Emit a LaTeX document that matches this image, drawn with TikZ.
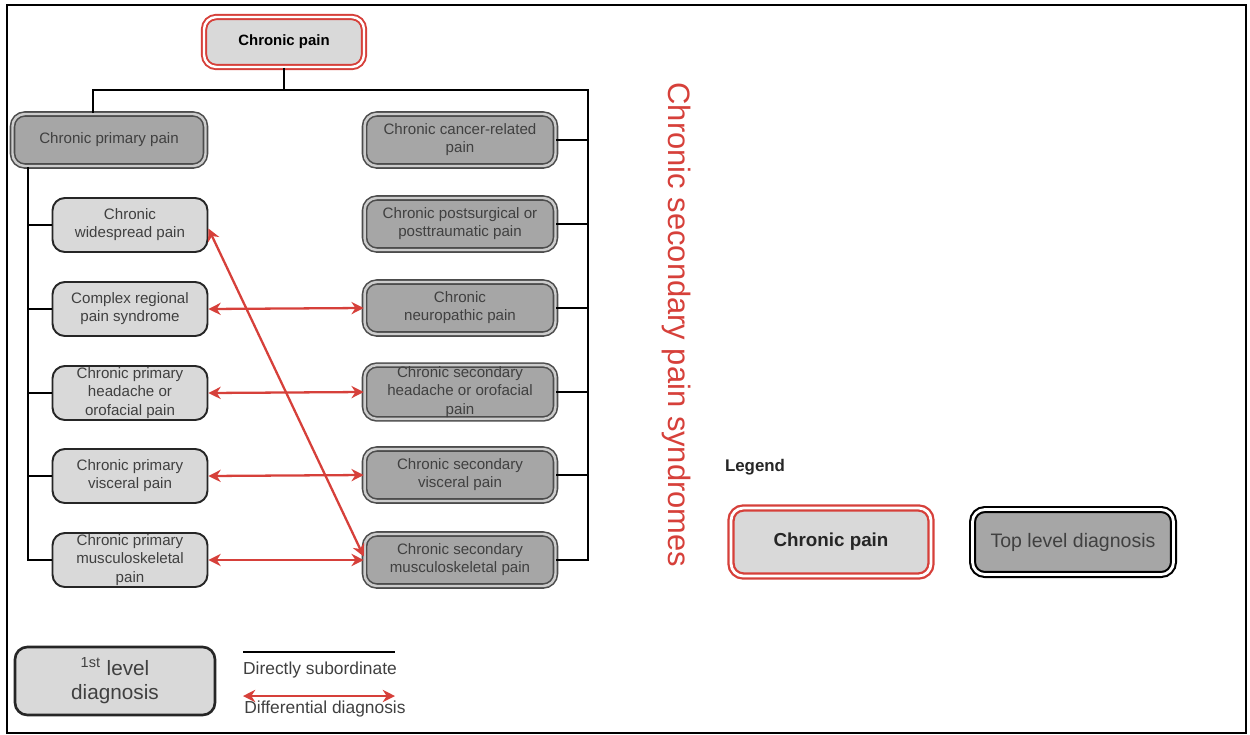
\documentclass[tikz,border=0pt]{standalone}
\usepackage{fontspec}
\setmainfont{Liberation Sans}
\definecolor{painred}{RGB}{214,64,58}
\definecolor{boxdark}{RGB}{166,166,166}
\definecolor{boxlight}{RGB}{217,217,217}
\definecolor{boxtext}{RGB}{64,64,64}
\usetikzlibrary{arrows.meta}
\usetikzlibrary{positioning}
\tikzset{
  boxfont/.style={font=\fontsize{8.6}{10.3}\selectfont, text=boxtext, align=center},
  rootbox/.style={draw=painred, double=white, double distance=1.4pt, line width=1.1pt,
    fill=boxlight, rounded corners=7pt, align=center, inner sep=1pt},
  toplevel/.style={boxfont, draw=black!70, double=black!20, double distance=1.4pt, line width=0.9pt,
    fill=boxdark, rounded corners=7pt, inner sep=1pt, minimum width=3.82cm, minimum height=1.04cm},
  firstlevel/.style={boxfont, draw=black!85, line width=1.1pt,
    fill=boxlight, rounded corners=7pt, inner sep=1pt, minimum width=3.1cm, minimum height=1.08cm},
  sub/.style={draw=black, line width=0.9pt},
  diff/.style={draw=painred, line width=1.3pt,
    {Stealth[length=7pt,width=7pt]}-{Stealth[length=7pt,width=7pt]}},
  legtext/.style={font=\fontsize{9.9}{12}\selectfont, text=boxtext},
}

\begin{document}
\begin{tikzpicture}[x=0.02cm, y=-0.02cm]
  \useasboundingbox (0,0) rectangle (1250,734);
  \draw[line width=0.8pt] (7,5) rectangle (1246,733);

  % root and the two branches
  \node[rootbox, minimum width=3.2cm, minimum height=1.0cm,
    font=\fontsize{8.5}{10}\selectfont\bfseries] (root) at (284,42) {Chronic pain};
  \node[toplevel, minimum width=3.86cm] (ppain) at (109,140) {Chronic primary pain};

  \node[toplevel] (s1) at (460,140) {Chronic cancer-related\\pain};
  \node[toplevel] (s2) at (460,224) {Chronic postsurgical or\\posttraumatic pain};
  \node[toplevel] (s3) at (460,308) {Chronic\\neuropathic pain};
  \node[toplevel] (s4) at (460,392) {Chronic secondary\\headache or orofacial\\pain};
  \node[toplevel] (s5) at (460,475) {Chronic secondary\\visceral pain};
  \node[toplevel] (s6) at (460,560) {Chronic secondary\\musculoskeletal pain};

  \node[firstlevel] (p1) at (130,225) {Chronic\\widespread pain};
  \node[firstlevel] (p2) at (130,309) {Complex regional\\pain syndrome};
  \node[firstlevel] (p3) at (130,393) {Chronic primary\\headache or\\orofacial pain};
  \node[firstlevel] (p4) at (130,476) {Chronic primary\\visceral pain};
  \node[firstlevel] (p5) at (130,560) {Chronic primary\\musculoskeletal\\pain};

  % subordinate lines
  \coordinate (busl) at (93,90);
  \coordinate (busr) at (588,90);
  \coordinate (trunk) at (28,0);
  \draw[sub] (root.south) -- (root.south |- busl);
  \draw[sub] (busl |- ppain.north) -- (busl) -- (busr) -- (busr |- s6.east) -- (s6.east);
  \foreach \n in {s1,s2,s3,s4,s5}
    \draw[sub] (\n.east) -- (\n.east -| busr);
  \draw[sub] (trunk |- ppain.south) -- (trunk |- p5.west) -- (p5.west);
  \foreach \n in {p1,p2,p3,p4}
    \draw[sub] (\n.west) -- (\n.west -| trunk);

  % differential diagnosis
  \draw[diff] (p2.east) -- (s3.west);
  \draw[diff] (p3.east) -- (s4.west);
  \draw[diff] (p4.east) -- (s5.west);
  \draw[diff] (p5.east) -- (s6.west);
  \draw[diff] ([yshift=-2pt]p1.east) -- ([yshift=2pt]s6.west);

  \node[rotate=-90, text=painred, font=\fontsize{17.6}{20}\selectfont] (sectitle) at (676,325)
    {Chronic secondary pain syndromes};

  % legend
  \node[font=\fontsize{9.6}{12}\selectfont\bfseries, text=black!85] (legend) at (755,467) {Legend};
  \node[rootbox, line width=1.3pt, double distance=1.6pt, minimum width=4.0cm, minimum height=1.36cm,
    font=\fontsize{10.7}{13}\selectfont\bfseries, text=black!85] (legroot) at (831,542) {Chronic pain};
  \node[toplevel, draw=black, double=white, line width=1.2pt, double distance=1.6pt,
    font=\fontsize{11.1}{13}\selectfont,
    minimum width=4.02cm, minimum height=1.3cm] (legtop) at (1073,542) {Top level diagnosis};

  \node[firstlevel, line width=1.5pt, minimum width=4.0cm, minimum height=1.36cm,
    font=\fontsize{11.8}{14}\selectfont] (legfirst) at (115,681)
    {\textsuperscript{1st} level\\diagnosis};
  \coordinate (subA) at (243,652);
  \coordinate (subB) at (395,652);
  \draw[sub] (subA) -- (subB);
  \node[legtext] (subtxt) at (320,670) {Directly subordinate};
  \coordinate (diffA) at (243,696);
  \coordinate (diffB) at (395,696);
  \draw[diff] (diffA) -- (diffB);
  \node[legtext] (difftxt) at (325,709) {Differential diagnosis};
\end{tikzpicture}
\end{document}
